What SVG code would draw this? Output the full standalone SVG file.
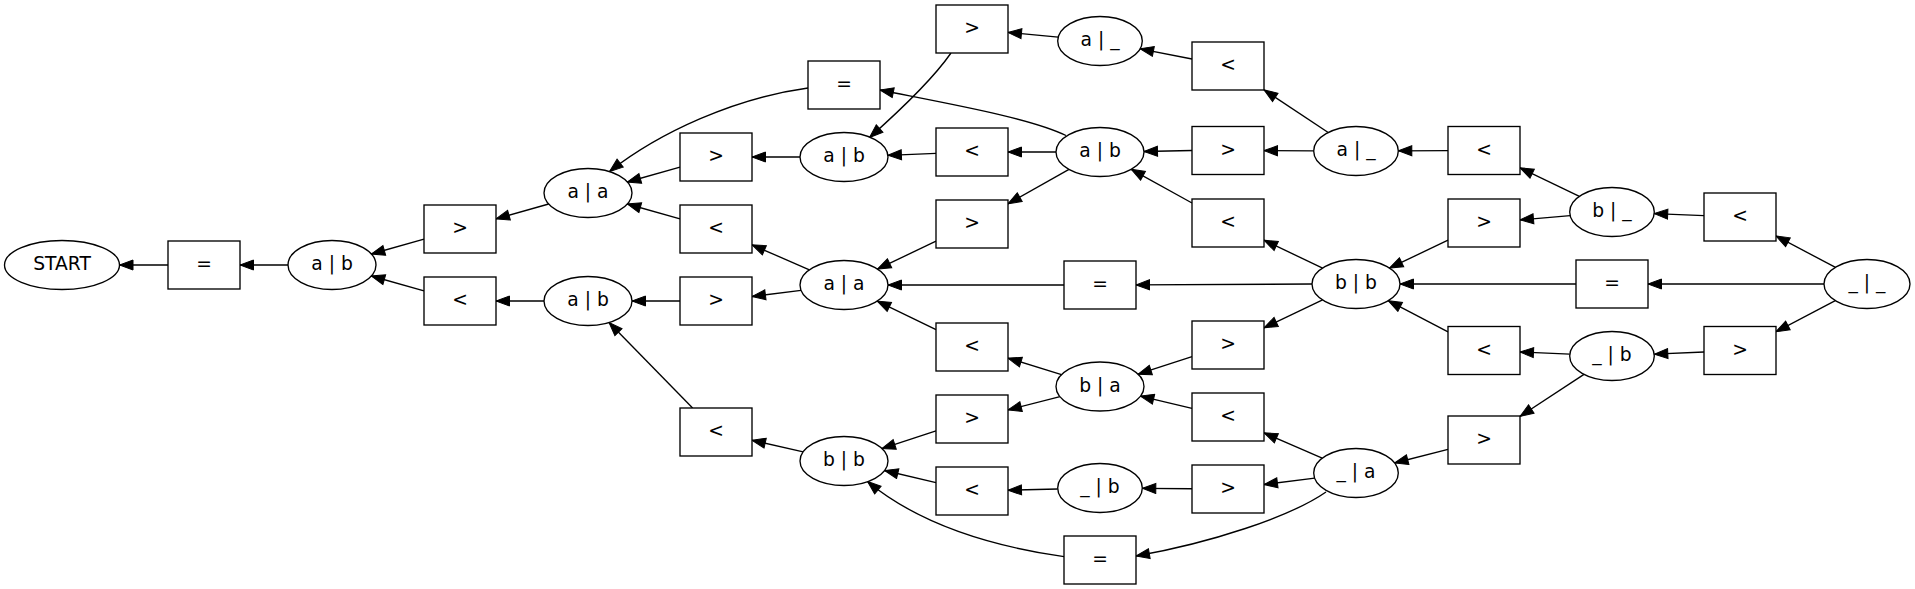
<svg xmlns="http://www.w3.org/2000/svg" width="1915" height="589" viewBox="0 0 1915 589">
<style>
.n ellipse, .n rect { fill:#ffffff; stroke:#000000; stroke-width:1.35; }
.n text { font-family:"DejaVu Sans","Liberation Sans",sans-serif; font-size:18.7px; text-anchor:middle; fill:#000000; }
.e line, .e path { stroke:#000000; stroke-width:1.35; fill:none; marker-end:url(#arr); }
</style>
<defs>
<marker id="arr" markerUnits="userSpaceOnUse" markerWidth="16" markerHeight="12" viewBox="0 0 16 12" refX="14.5" refY="6" orient="auto">
<path d="M1,1 L14.5,6 L1,11 z" fill="#000000" stroke="#000000" stroke-width="1"/>
</marker>
</defs>
<rect x="0" y="0" width="1915" height="589" fill="#ffffff"/>
<g id="connectors" class="e">
<line x1="168" y1="265" x2="119.5" y2="265"/>
<line x1="288" y1="265" x2="240" y2="265"/>
<line x1="424" y1="239.1" x2="371.3" y2="254"/>
<line x1="424" y1="290.9" x2="371.3" y2="276"/>
<line x1="548.7" y1="204" x2="496" y2="218.9"/>
<line x1="544" y1="301" x2="496" y2="301"/>
<line x1="680" y1="167.1" x2="627.3" y2="182"/>
<line x1="680" y1="218.9" x2="627.3" y2="204"/>
<line x1="680" y1="301" x2="632" y2="301"/>
<line x1="692.6" y1="408" x2="609" y2="322.5"/>
<line x1="800" y1="157" x2="752" y2="157"/>
<line x1="809.4" y1="269.9" x2="752" y2="244.8"/>
<line x1="801.1" y1="290.4" x2="752" y2="296.5"/>
<line x1="803.2" y1="451.8" x2="752" y2="440.2"/>
<line x1="936" y1="153.4" x2="887.9" y2="155.3"/>
<line x1="936" y1="241.2" x2="877.4" y2="269.1"/>
<line x1="1064" y1="285" x2="888" y2="285"/>
<line x1="936" y1="329.6" x2="877.2" y2="301.1"/>
<line x1="936" y1="430.8" x2="881.9" y2="448.6"/>
<line x1="936" y1="482.6" x2="884.6" y2="470.5"/>
<line x1="1058.2" y1="37.1" x2="1008" y2="32.4"/>
<line x1="1056" y1="152" x2="1008" y2="152"/>
<line x1="1069" y1="169.4" x2="1008" y2="203.8"/>
<line x1="1061.5" y1="374.6" x2="1008" y2="358.1"/>
<line x1="1060" y1="396.7" x2="1008" y2="409.9"/>
<line x1="1057.7" y1="489" x2="1008" y2="490.2"/>
<line x1="1192" y1="59" x2="1140.1" y2="48.8"/>
<line x1="1192" y1="150.5" x2="1144" y2="151.5"/>
<line x1="1192" y1="203" x2="1131.2" y2="169.3"/>
<line x1="1312" y1="284" x2="1136" y2="284.9"/>
<line x1="1192" y1="356.7" x2="1138" y2="374.2"/>
<line x1="1192" y1="408.4" x2="1140.4" y2="396.1"/>
<line x1="1192" y1="488.7" x2="1142.3" y2="488.3"/>
<line x1="1328.2" y1="132.5" x2="1264" y2="89.9"/>
<line x1="1313.7" y1="150.9" x2="1264" y2="150.6"/>
<line x1="1322.6" y1="268.1" x2="1264" y2="240.2"/>
<line x1="1322.6" y1="299.9" x2="1264" y2="327.8"/>
<line x1="1322.2" y1="458.2" x2="1264" y2="432.8"/>
<line x1="1314.7" y1="478.2" x2="1264" y2="484.5"/>
<line x1="1448" y1="150.6" x2="1398.3" y2="150.8"/>
<line x1="1448" y1="240.2" x2="1389.4" y2="268.1"/>
<line x1="1576" y1="284" x2="1400" y2="284"/>
<line x1="1448" y1="331.8" x2="1388.2" y2="300.7"/>
<line x1="1448" y1="449.3" x2="1394.6" y2="463"/>
<line x1="1579.4" y1="196.4" x2="1520" y2="167.8"/>
<line x1="1570.2" y1="215.6" x2="1520" y2="219.9"/>
<line x1="1569.7" y1="354.2" x2="1520" y2="352"/>
<line x1="1584" y1="374.4" x2="1520" y2="416.4"/>
<line x1="1704" y1="215.6" x2="1654.2" y2="213.6"/>
<line x1="1824" y1="284" x2="1648" y2="284"/>
<line x1="1704" y1="352" x2="1654.3" y2="354.2"/>
<line x1="1835.5" y1="267.4" x2="1776" y2="236"/>
<line x1="1835.3" y1="300.6" x2="1776" y2="331.7"/>
<path d="M808,88 C735,98 660,132 609.5,171.5"/>
<path d="M1066,135.5 C1030,118 950,104 880,90"/>
<path d="M951,53 C935,76 905,106 869.5,137.5"/>
<path d="M1064,556.7 C990,546 920,525 867.5,481.5"/>
<path d="M1326,492 C1290,517 1210,543 1136,556"/>
</g>
<g id="START" class="n"><ellipse cx="62" cy="265" rx="57.5" ry="24.5"/><text x="62" y="270">START</text></g>
<g id="n_eq1" class="n"><rect x="168" y="241" width="72" height="48"/><text x="204" y="270">=</text></g>
<g id="s_ab_1" class="n"><ellipse cx="332" cy="265" rx="44" ry="24.5"/><text x="332" y="270">a | b</text></g>
<g id="n_gt2" class="n"><rect x="424" y="205" width="72" height="48"/><text x="460" y="234">&gt;</text></g>
<g id="n_lt3" class="n"><rect x="424" y="277" width="72" height="48"/><text x="460" y="306">&lt;</text></g>
<g id="s_aa_2" class="n"><ellipse cx="588" cy="193" rx="44" ry="24.5"/><text x="588" y="198">a | a</text></g>
<g id="s_ab_3" class="n"><ellipse cx="588" cy="301" rx="44" ry="24.5"/><text x="588" y="306">a | b</text></g>
<g id="n_gt4" class="n"><rect x="680" y="133" width="72" height="48"/><text x="716" y="162">&gt;</text></g>
<g id="n_lt5" class="n"><rect x="680" y="205" width="72" height="48"/><text x="716" y="234">&lt;</text></g>
<g id="n_gt6" class="n"><rect x="680" y="277" width="72" height="48"/><text x="716" y="306">&gt;</text></g>
<g id="n_lt7" class="n"><rect x="680" y="408" width="72" height="48"/><text x="716" y="437">&lt;</text></g>
<g id="n_eq8" class="n"><rect x="808" y="61" width="72" height="48"/><text x="844" y="90">=</text></g>
<g id="s_ab_4" class="n"><ellipse cx="844" cy="157" rx="44" ry="24.5"/><text x="844" y="162">a | b</text></g>
<g id="s_aa_5" class="n"><ellipse cx="844" cy="285" rx="44" ry="24.5"/><text x="844" y="290">a | a</text></g>
<g id="s_bb_6" class="n"><ellipse cx="844" cy="461" rx="44" ry="24.5"/><text x="844" y="466">b | b</text></g>
<g id="n_gt9" class="n"><rect x="936" y="5" width="72" height="48"/><text x="972" y="34">&gt;</text></g>
<g id="n_lt10" class="n"><rect x="936" y="128" width="72" height="48"/><text x="972" y="157">&lt;</text></g>
<g id="n_gt11" class="n"><rect x="936" y="200" width="72" height="48"/><text x="972" y="229">&gt;</text></g>
<g id="n_lt12" class="n"><rect x="936" y="323" width="72" height="48"/><text x="972" y="352">&lt;</text></g>
<g id="n_gt13" class="n"><rect x="936" y="395" width="72" height="48"/><text x="972" y="424">&gt;</text></g>
<g id="n_lt14" class="n"><rect x="936" y="467" width="72" height="48"/><text x="972" y="496">&lt;</text></g>
<g id="s_a__7" class="n"><ellipse cx="1100" cy="41" rx="42.3" ry="24.5"/><text x="1100" y="46">a | _</text></g>
<g id="s_ab_8" class="n"><ellipse cx="1100" cy="152" rx="44" ry="24.5"/><text x="1100" y="157">a | b</text></g>
<g id="n_eq18" class="n"><rect x="1064" y="261" width="72" height="48"/><text x="1100" y="290">=</text></g>
<g id="s_ba_9" class="n"><ellipse cx="1100" cy="386.5" rx="44" ry="24.5"/><text x="1100" y="391.5">b | a</text></g>
<g id="s__b_10" class="n"><ellipse cx="1100" cy="488" rx="42.3" ry="24.5"/><text x="1100" y="493">_ | b</text></g>
<g id="n_eq22" class="n"><rect x="1064" y="536" width="72" height="48"/><text x="1100" y="565">=</text></g>
<g id="n_lt15" class="n"><rect x="1192" y="42" width="72" height="48"/><text x="1228" y="71">&lt;</text></g>
<g id="n_gt16" class="n"><rect x="1192" y="126.5" width="72" height="48"/><text x="1228" y="155.5">&gt;</text></g>
<g id="n_lt17" class="n"><rect x="1192" y="199" width="72" height="48"/><text x="1228" y="228">&lt;</text></g>
<g id="n_gt19" class="n"><rect x="1192" y="321" width="72" height="48"/><text x="1228" y="350">&gt;</text></g>
<g id="n_lt20" class="n"><rect x="1192" y="393" width="72" height="48"/><text x="1228" y="422">&lt;</text></g>
<g id="n_gt21" class="n"><rect x="1192" y="465" width="72" height="48"/><text x="1228" y="494">&gt;</text></g>
<g id="s_a__11" class="n"><ellipse cx="1356" cy="151" rx="42.3" ry="24.5"/><text x="1356" y="156">a | _</text></g>
<g id="s_bb_12" class="n"><ellipse cx="1356" cy="284" rx="44" ry="24.5"/><text x="1356" y="289">b | b</text></g>
<g id="s__a_13" class="n"><ellipse cx="1356" cy="473" rx="42.3" ry="24.5"/><text x="1356" y="478">_ | a</text></g>
<g id="n_lt23" class="n"><rect x="1448" y="126.5" width="72" height="48"/><text x="1484" y="155.5">&lt;</text></g>
<g id="n_gt24" class="n"><rect x="1448" y="199" width="72" height="48"/><text x="1484" y="228">&gt;</text></g>
<g id="n_lt26" class="n"><rect x="1448" y="326.5" width="72" height="48"/><text x="1484" y="355.5">&lt;</text></g>
<g id="n_gt27" class="n"><rect x="1448" y="416" width="72" height="48"/><text x="1484" y="445">&gt;</text></g>
<g id="s_b__14" class="n"><ellipse cx="1612" cy="212" rx="42.3" ry="24.5"/><text x="1612" y="217">b | _</text></g>
<g id="n_eq25" class="n"><rect x="1576" y="260" width="72" height="48"/><text x="1612" y="289">=</text></g>
<g id="s__b_15" class="n"><ellipse cx="1612" cy="356" rx="42.3" ry="24.5"/><text x="1612" y="361">_ | b</text></g>
<g id="n_lt28" class="n"><rect x="1704" y="193" width="72" height="48"/><text x="1740" y="222">&lt;</text></g>
<g id="n_gt29" class="n"><rect x="1704" y="326.5" width="72" height="48"/><text x="1740" y="355.5">&gt;</text></g>
<g id="s____16" class="n"><ellipse cx="1867" cy="284" rx="43" ry="24.5"/><text x="1867" y="289">_ | _</text></g>
</svg>
